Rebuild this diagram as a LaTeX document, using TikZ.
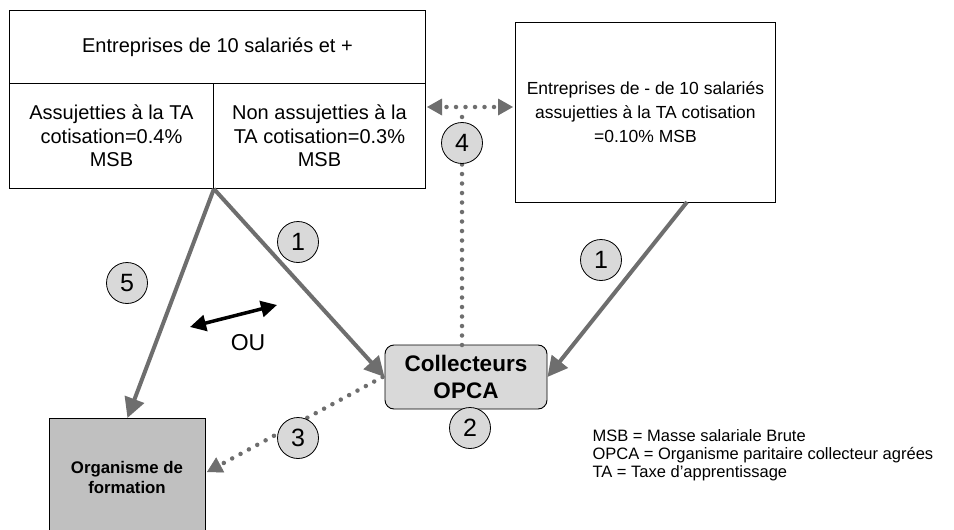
\documentclass[tikz,border=0pt]{standalone}
\usepackage{fontspec}
\setmainfont{Liberation Sans}
\usetikzlibrary{arrows.meta,calc}
\definecolor{flowgray}{HTML}{6E6E6E}
\definecolor{badgefill}{HTML}{D9D9D9}
\definecolor{orgfill}{HTML}{C0C0C0}
\begin{document}
\begin{tikzpicture}[x=1pt,y=-1pt,
  cell/.style={draw=black,line width=0.9pt,fill=white,inner sep=0pt,align=center,
    font=\fontsize{20}{23.5}\selectfont},
  badge/.style={circle,draw=black,line width=0.8pt,fill=badgefill,minimum size=41pt,
    inner sep=0pt,font=\fontsize{25}{25}\selectfont},
  flow/.style={draw=flowgray,line width=4pt,-{Triangle[length=20pt,width=20pt]}},
  dots/.style={draw=flowgray,line width=4.5pt,line cap=round,dash pattern=on 0pt off 9.5pt},
  dothead/.style={draw=flowgray,fill=flowgray,line width=0.5pt,-{Triangle[length=15pt,width=17pt]}},
  either/.style={draw=black,line width=3.5pt,{Triangle[length=16pt,width=16pt]}-{Triangle[length=16pt,width=16pt]}}
]
\useasboundingbox[fill=white] (0,0) rectangle (954,530);

% Large companies: heading and two sub-cells
\node[cell,minimum width=416pt,minimum height=73pt,anchor=north west] (big) at (9,10)
  {Entreprises de 10 salariés et +};
\node[cell,minimum width=204pt,minimum height=105pt,anchor=north west] (subject) at (9,83)
  {Assujetties à la TA\\cotisation=0.4\%\\MSB};
\node[cell,minimum width=212pt,minimum height=105pt,anchor=north west] (exempt) at (213,83)
  {Non assujetties à la\\TA cotisation=0.3\%\\MSB};

% Small companies
\node[cell,minimum width=260pt,minimum height=180pt,anchor=north west,
  font=\fontsize{17.5}{24}\selectfont] (small) at (515,22)
  {Entreprises de - de 10 salariés\\assujetties à la TA cotisation\\=0.10\% MSB};

% Collector and training body
\node[draw=black,line width=0.9pt,fill=badgefill,rounded corners=9pt,minimum width=162pt,
  minimum height=64pt,align=center,font=\bfseries\fontsize{22.5}{27}\selectfont] (opca) at (466,377)
  {Collecteurs\\OPCA};
\node[draw=black,line width=0.9pt,fill=orgfill,minimum width=156pt,minimum height=140pt,
  anchor=north west] (org) at (49,418) {};
\node[align=center,font=\bfseries\fontsize{16.8}{20}\selectfont] (orgtext) at (127,477)
  {Organisme de\\formation};

% Anchor points on box edges
\coordinate (split) at (subject.south east);
\coordinate (smallfoot) at (687,202);
\coordinate (bigside) at (427,107);
\coordinate (smallside) at (513,107);
\coordinate (opcatop) at (462,345);
\coordinate (dotjoin) at (462,110);
\coordinate (orgside) at (207,472);

% Money flows
\draw[flow] (split) -- (org.north);
\draw[flow] (split) -- (opca.west);
\draw[flow] (smallfoot) -- (opca.east);

% Dotted links
\draw[dots] (opcatop) -- (dotjoin);
\draw[dots] ($(bigside)+(10,0)$) -- ($(smallside)-(10,0)$);
\draw[dots] ($(opca.west)+(-2,0)$) -- ($(orgside)!12pt!(opca.west)$);
\fill[flowgray] (bigside) -- ++(15,-8.5) -- ++(0,17) -- cycle;
\fill[flowgray] (smallside) -- ++(-15,-8.5) -- ++(0,17) -- cycle;
\draw[dothead] ($(orgside)!15pt!(opca.west)$) -- (orgside);

% Either-or arrow
\draw[either] (190,327) -- (277,305);
\node[font=\fontsize{23}{24}\selectfont] (ou) at (248,343) {OU};

% Step badges
\node[badge] (b1) at (298,242) {1};
\node[badge] (b1r) at (601,260) {1};
\node[badge] (b5) at (127,283) {5};
\node[badge] (b4) at (462,143) {4};
\node[badge] (b2) at (470,428) {2};
\node[badge] (b3) at (298,438) {3};

% Legend
\node[anchor=west,align=left,font=\fontsize{16.5}{18}\selectfont] (legend) at (589,455)
  {MSB = Masse salariale Brute\\OPCA = Organisme paritaire collecteur agrées\\TA = Taxe d’apprentissage};
\end{tikzpicture}
\end{document}
